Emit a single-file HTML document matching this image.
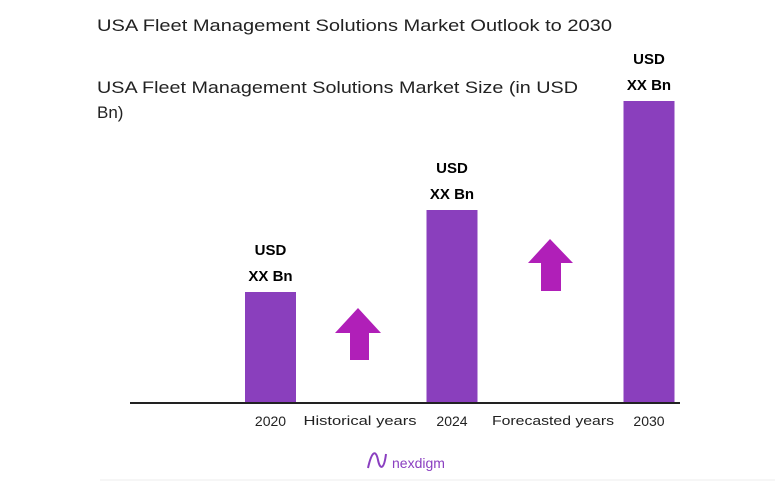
<!DOCTYPE html>
<html><head><meta charset="utf-8"><style>
body{margin:0;width:775px;height:481px;background:#fff;overflow:hidden;font-family:"Liberation Sans",sans-serif}
svg{display:block}
</style></head><body>
<svg id="chart" width="775" height="481">
<text x="97" y="31" font-size="17" fill="#222" textLength="515" lengthAdjust="spacingAndGlyphs">USA Fleet Management Solutions Market Outlook to 2030</text>
<text x="97" y="93" font-size="17" fill="#222" textLength="481" lengthAdjust="spacingAndGlyphs">USA Fleet Management Solutions Market Size (in USD</text>
<text x="97" y="118" font-size="17" fill="#222">Bn)</text>
<g id="bars"></g>
<line x1="130" y1="403" x2="680" y2="403" stroke="#222" stroke-width="2"/>
<text x="360" y="425" font-size="13" fill="#222" text-anchor="middle" textLength="113" lengthAdjust="spacingAndGlyphs">Historical years</text>
<text x="553" y="425" font-size="13" fill="#222" text-anchor="middle" textLength="122" lengthAdjust="spacingAndGlyphs">Forecasted years</text>
<polygon points="358,308 381,333 369,333 369,360 350,360 350,333 335,333" fill="#b01fb8"/>
<polygon points="550,239 573,263 561,263 561,291 541,291 541,263 528,263" fill="#b01fb8"/>
<path d="M368,468 C372,450 376,450 378,460 C380,470 384,470 386,454" fill="none" stroke="#8a3fc0" stroke-width="2"/>
<text x="392" y="468" font-size="14" fill="#8a3fc0">nexdigm</text>
<line x1="100" y1="480" x2="775" y2="480" stroke="#eee" stroke-width="1"/>
</svg>
<script>
const categories=["2020","2024","2030"];
const values=[110,192,301];
const labelTop=["USD","USD","USD"];
const labelBottom=["XX Bn","XX Bn","XX Bn"];
const baseY=402, pxPerUnit=1;
const centers=[270.5,452,649];
const g=document.getElementById('bars');
const ns="http://www.w3.org/2000/svg";
function y(v){return baseY-v*pxPerUnit;}
categories.forEach((c,i)=>{
  const r=document.createElementNS(ns,'rect');
  r.setAttribute('x',centers[i]-25.5);r.setAttribute('width',51);
  r.setAttribute('y',y(values[i]));r.setAttribute('height',baseY-y(values[i]));
  r.setAttribute('fill','#8a3fbd');
  
  
  g.appendChild(r);
  const t1=document.createElementNS(ns,'text');
  t1.setAttribute('x',centers[i]);t1.setAttribute('y',y(values[i])-37);
  t1.setAttribute('text-anchor','middle');t1.setAttribute('font-size','15');t1.setAttribute('font-weight','bold');
  t1.textContent=labelTop[i];
  
  
  g.appendChild(t1);
  const t2=document.createElementNS(ns,'text');
  t2.setAttribute('x',centers[i]);t2.setAttribute('y',y(values[i])-11);
  t2.setAttribute('text-anchor','middle');t2.setAttribute('font-size','15');t2.setAttribute('font-weight','bold');
  t2.textContent=labelBottom[i];
  
  
  g.appendChild(t2);
  const t3=document.createElementNS(ns,'text');
  t3.setAttribute('x',centers[i]);t3.setAttribute('y',baseY+24);
  t3.setAttribute('text-anchor','middle');t3.setAttribute('font-size','14');t3.setAttribute('fill','#222');
  t3.textContent=c;
  
  
  g.appendChild(t3);
});
</script>
</body></html>
